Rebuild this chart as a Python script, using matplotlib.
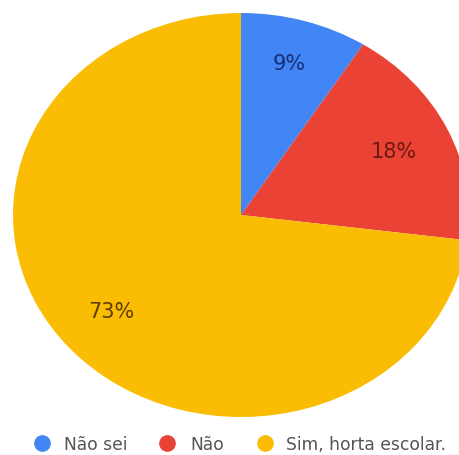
import matplotlib
matplotlib.use("Agg")
import matplotlib.pyplot as plt
from matplotlib.lines import Line2D

categories = ["Não sei", "Não", "Sim, horta escolar."]
values = [9, 18, 73]
colors = ["#4285f4", "#ea4335", "#fbbc04"]
label_colors = ["#17307a", "#6e1a12", "#5b3f00"]

W, H = 459, 455
fig = plt.figure(figsize=(W / 100, H / 100), dpi=100)
ax = fig.add_axes([0, 0, 1, 1])
wedges, texts = ax.pie(values, colors=colors, startangle=90, counterclock=False,
                       radius=1.0, wedgeprops=dict(linewidth=0))
# percentage labels
pos = [(0.21, 0.75), (0.67, 0.31), (-0.57, -0.48)]
for (x, y), v, c in zip(pos, values, label_colors):
    ax.text(x, y, f"{v}%", ha="center", va="center", fontsize=15, color=c,
            family="DejaVu Sans")
ax.set_aspect("auto")
cx, cy, rx, ry = 241, 215, 228, 202
ax.set_xlim(-cx / rx, (W - cx) / rx)
ax.set_ylim(-(H - cy) / ry, cy / ry)
ax.axis("off")

# legend drawn manually
marker_x = [42, 167, 265]
text_x = [64, 190, 286]
ly = 1 - 443 / H
for mx, tx, c, lab in zip(marker_x, text_x, colors, categories):
    fig.add_artist(Line2D([mx / W], [ly], marker="o", linestyle="", markersize=11,
                          markerfacecolor=c, markeredgecolor=c,
                          transform=fig.transFigure))
    fig.text(tx / W, ly, lab, ha="left", va="center_baseline", fontsize=12.3,
             color="#555555")
fig.savefig("out.png", dpi=100, facecolor="white")
